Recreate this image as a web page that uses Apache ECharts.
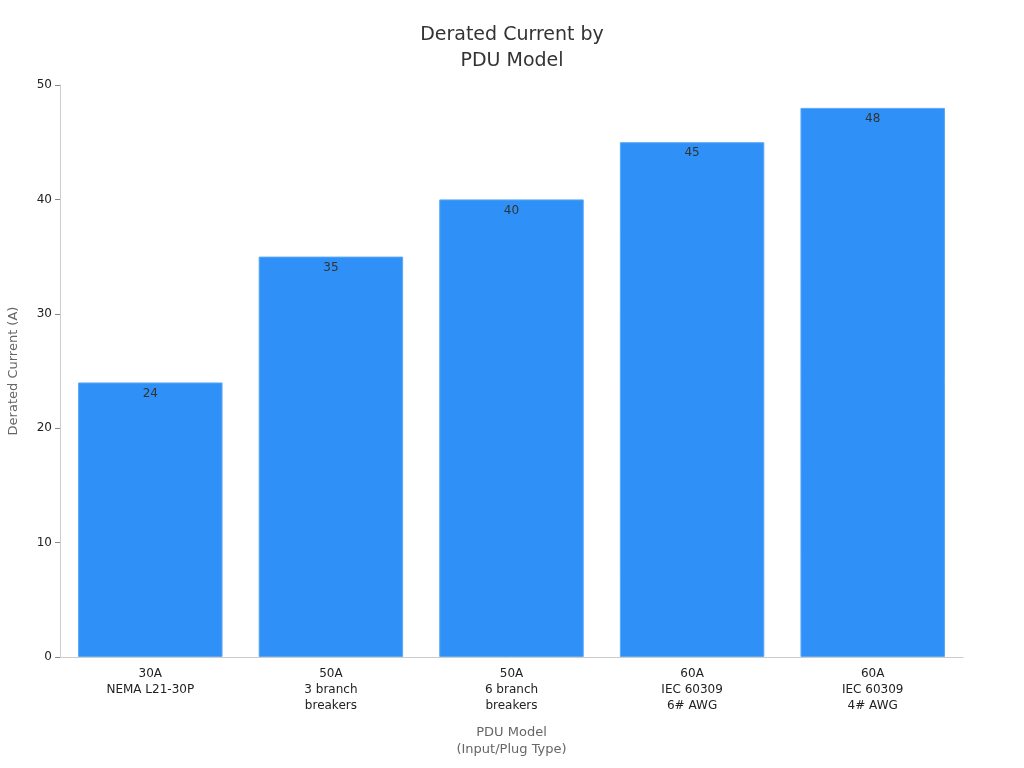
<!DOCTYPE html>
<html>
<head>
<meta charset="utf-8">
<script src="https://cdn.jsdelivr.net/npm/echarts@6/dist/echarts.min.js"></script>
<style>
  html, body { margin: 0; padding: 0; background: #fff; }
  #main { width: 1024px; height: 768px; }
</style>
</head>
<body>
<div id="main"></div>
<script>
  // PDU models (input / plug type)
  const categories = [
    '30A\nNEMA L21-30P',
    '50A\n3 branch\nbreakers',
    '50A\n6 branch\nbreakers',
    '60A\nIEC 60309\n6# AWG',
    '60A\nIEC 60309\n4# AWG'
  ];
  const deratedCurrent = [24, 35, 40, 45, 48];

  const font = 'DejaVu Sans';
  const chart = echarts.init(document.getElementById('main'));

  chart.setOption({
    animation: false,
    textStyle: { fontFamily: font },
    title: {
      text: 'Derated Current by\nPDU Model',
      left: 'center',
      top: 17,
      textStyle: { fontFamily: font, fontSize: 19, fontWeight: 'normal', color: '#333', lineHeight: 26 }
    },
    grid: { left: 60, right: 61, top: 85, bottom: 111, containLabel: false, outerBoundsMode: 'none' },
    xAxis: {
      type: 'category',
      data: categories,
      name: 'PDU Model\n(Input/Plug Type)',
      nameLocation: 'middle',
      nameGap: 67,
      nameTextStyle: { fontFamily: font, fontSize: 13, color: '#666', lineHeight: 17 },
      axisLine: { lineStyle: { color: '#ccc' } },
      axisTick: { alignWithLabel: true, length: 5, lineStyle: { color: '#999' } },
      axisLabel: { fontFamily: font, fontSize: 12, color: '#222', lineHeight: 16, margin: 9 }
    },
    yAxis: {
      type: 'value',
      min: 0,
      max: 50,
      interval: 10,
      name: 'Derated Current (A)',
      nameLocation: 'middle',
      nameGap: 40,
      nameTextStyle: { fontFamily: font, fontSize: 13, color: '#666' },
      axisLine: { show: true, lineStyle: { color: '#ccc' } },
      axisTick: { show: true, length: 5, lineStyle: { color: '#888' } },
      axisLabel: { fontFamily: font, fontSize: 12, color: '#222', margin: 8 },
      splitLine: { show: false }
    },
    series: [{
      type: 'bar',
      data: deratedCurrent,
      barWidth: '80%',
      itemStyle: { color: '#2f91f8', borderColor: '#5aa8f5', borderWidth: 1 },
      label: {
        show: true,
        position: 'insideTop',
        distance: 5,
        fontFamily: font,
        fontSize: 12,
        color: '#333'
      }
    }]
  });
</script>
</body>
</html>
